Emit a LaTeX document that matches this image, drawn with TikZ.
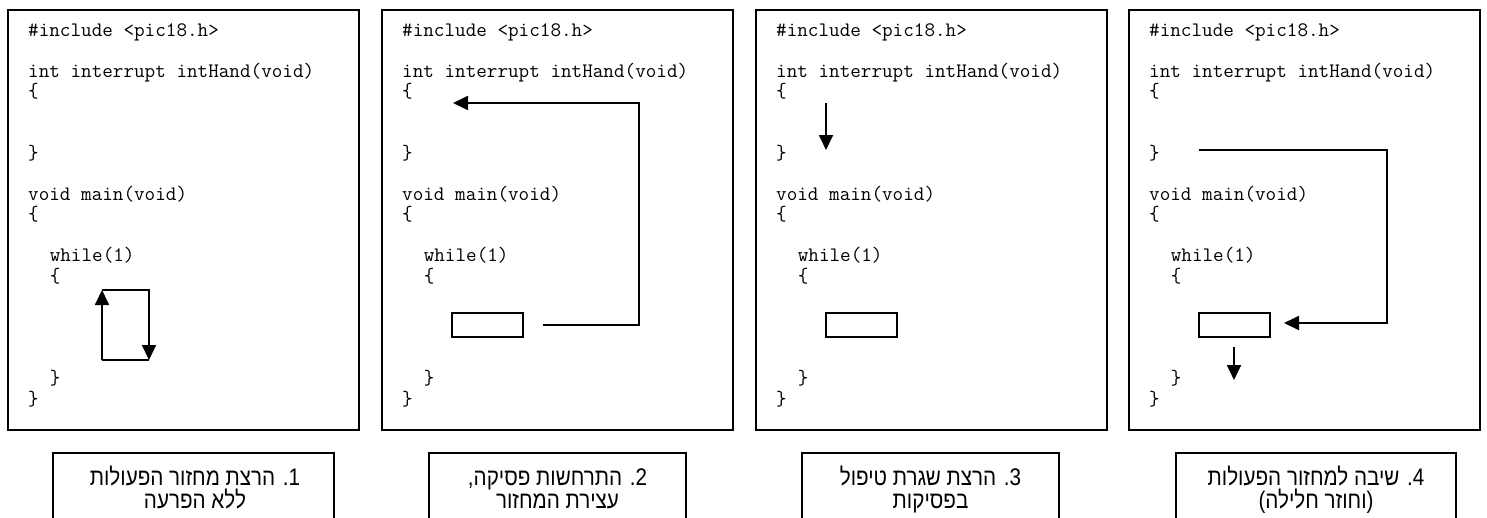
\documentclass[tikz,border=0pt]{standalone}
\usepackage{fontspec}
\newfontfamily\hebfont[Script=Hebrew, FakeStretch=0.86]{Liberation Sans}
\TeXXeTstate=1
\usetikzlibrary{arrows.meta}
\tikzset{
  frame/.style={draw, line width=1.8pt, rectangle, inner sep=0pt},
  code/.style={anchor=base west, inner sep=0pt, font=\ttfamily\fontsize{20.57}{20.5}\selectfont},
  captext/.style={anchor=base, inner sep=0pt, font=\hebfont\fontsize{24}{23}\selectfont},
  stmt/.style={draw, line width=1.8pt, rectangle, inner sep=0pt, minimum width=71pt, minimum height=24pt},
  arr/.style={line width=1.8pt, -{Triangle[length=15pt,width=14pt]}},
  ln/.style={line width=1.8pt}
}
\begin{document}
\begin{tikzpicture}[x=1pt,y=-1pt]
\useasboundingbox (0,0) rectangle (1487,517);
\clip (0,0) rectangle (1487,517);
\fill[white] (0,0) rectangle (1487,517);
\foreach \p/\px in {1/8,2/382,3/756,4/1129}{
  \node[frame, minimum width=351pt, minimum height=420pt] (f\p) at (\px+175.5,220) {};
  \foreach \n/\ind/\txt in {0/0/{\#include <pic18.h>}, 2/0/{int interrupt intHand(void)}, 3/0/{\{}, 6/0/{\}}, 8/0/{void main(void)}, 9/0/{\{}, 11/2/{while(1)}, 12/2/{\{}, 17/2/{\}}, 18/0/{\}}}{
    \node[code] (c\p-\n) at (\px+20+\ind*10.8, 36+20.5*\n) {\txt};
  }
}
% panel 1: loop
\coordinate (la) at (102,290);
\coordinate (lb) at (149,290);
\coordinate (lc) at (149,360);
\coordinate (ld) at (102,360);
\draw[arr] (ld) -- (la);
\draw[arr] (la) -- (lb) -- (lc);
\draw[ln] (lc) -- (ld);
% panel 2
\node[stmt] (s2) at (487.5,325) {};
\coordinate (i2) at (543,325);
\coordinate (h2) at (453,103);
\draw[arr] (i2) -- (639,325) -- (639,103) -- (h2);
% panel 3
\node[stmt] (s3) at (861.5,325) {};
\coordinate (h3a) at (826,103);
\coordinate (h3b) at (826,150);
\draw[arr] (h3a) -- (h3b);
% panel 4
\node[stmt] (s4) at (1234.5,325) {};
\coordinate (e4) at (1199,150);
\coordinate (r4) at (1284,323);
\draw[arr] (e4) -- (1387,150) -- (1387,323) -- (r4);
\coordinate (d4a) at (1234,347);
\coordinate (d4b) at (1234,380);
\draw[arr] (d4a) -- (d4b);
% captions
\node[frame, minimum width=281pt, minimum height=90pt] (cb1) at (193.5,498) {};
\node[frame, minimum width=257pt, minimum height=90pt] (cb2) at (557.5,498) {};
\node[frame, minimum width=257pt, minimum height=90pt] (cb3) at (930.5,498) {};
\node[frame, minimum width=280pt, minimum height=90pt] (cb4) at (1316,498) {};
\node[captext] (t1a) at (195,485) {\beginR 1. הרצת מחזור הפעולות\endR};
\node[captext] (t1b) at (195,508) {\beginR ללא הפרעה\endR};
\node[captext] (t2a) at (557.5,485) {\beginR 2. התרחשות פסיקה,\endR};
\node[captext] (t2b) at (557.5,508) {\beginR עצירת המחזור\endR};
\node[captext] (t3a) at (930.5,485) {\beginR 3. הרצת שגרת טיפול\endR};
\node[captext] (t3b) at (930.5,508) {\beginR בפסיקות\endR};
\node[captext] (t4a) at (1316,485) {\beginR 4. שיבה למחזור הפעולות\endR};
\node[captext] (t4b) at (1316,508) {\beginR (וחוזר חלילה)\endR};
\end{tikzpicture}
\end{document}
